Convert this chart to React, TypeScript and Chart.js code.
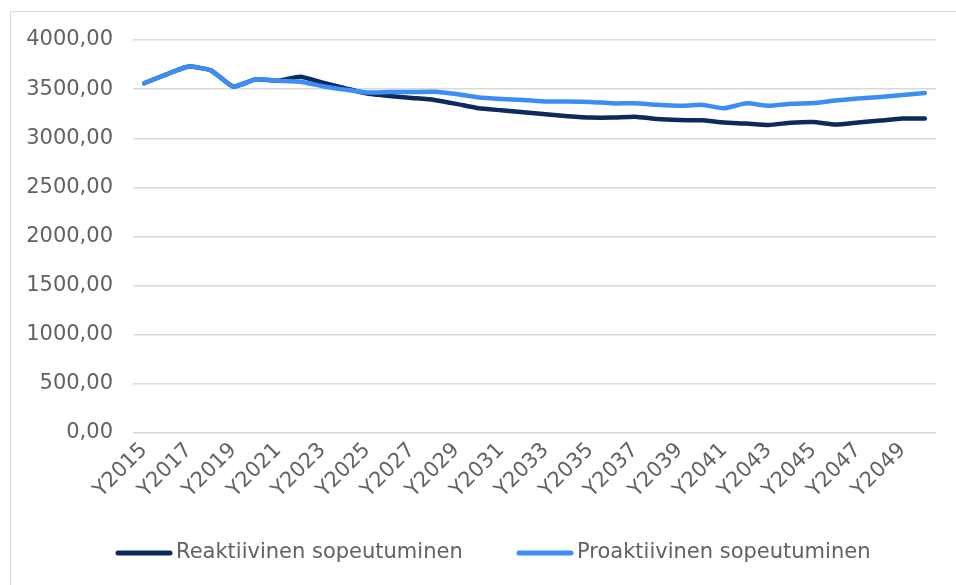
import React, { useEffect, useRef } from "react";
import { Chart, registerables } from "chart.js";

Chart.register(...registerables);

const years: string[] = [
  "Y2015", "Y2016", "Y2017", "Y2018", "Y2019", "Y2020", "Y2021", "Y2022", "Y2023", "Y2024",
  "Y2025", "Y2026", "Y2027", "Y2028", "Y2029", "Y2030", "Y2031", "Y2032", "Y2033", "Y2034",
  "Y2035", "Y2036", "Y2037", "Y2038", "Y2039", "Y2040", "Y2041", "Y2042", "Y2043", "Y2044",
  "Y2045", "Y2046", "Y2047", "Y2048", "Y2049", "Y2050",
];

const reaktiivinen: number[] = [
  3560, 3650, 3730, 3690, 3525, 3600, 3585, 3625, 3565, 3510,
  3455, 3430, 3410, 3390, 3350, 3305, 3285, 3265, 3245, 3225,
  3210, 3210, 3220, 3195, 3185, 3182, 3160, 3150, 3135, 3158,
  3165, 3140, 3160, 3180, 3200, 3200,
];

const proaktiivinen: number[] = [
  3560, 3650, 3730, 3690, 3525, 3600, 3585, 3575, 3530, 3495,
  3465, 3470, 3470, 3473, 3450, 3415, 3400, 3390, 3375, 3375,
  3370, 3355, 3355, 3340, 3330, 3340, 3305, 3355, 3330, 3350,
  3358, 3385, 3405, 3420, 3440, 3460,
];

const seriesNames: string[] = ["Reaktiivinen sopeutuminen", "Proaktiivinen sopeutuminen"];

const FONT = "'DejaVu Sans', sans-serif";
const FONT_SIZE = 21;
const TEXT = "#626262";
const DARK = "#0c2a5e";
const LIGHT = "#3b8ef5";

// Legend drawn on the chart canvas, below the category labels
const bottomLegend = {
  id: "bottomLegend",
  afterDraw(chart: any) {
    const ctx = chart.ctx;
    const items = [
      { text: seriesNames[0], color: DARK, x: 116 },
      { text: seriesNames[1], color: LIGHT, x: 517 },
    ];
    const lineLen = 56;
    const textGap = 4;
    const y = 553;
    ctx.save();
    ctx.font = `${FONT_SIZE}px ${FONT}`;
    items.forEach((it) => {
      ctx.strokeStyle = it.color;
      ctx.lineWidth = 5;
      ctx.lineCap = "round";
      ctx.beginPath();
      ctx.moveTo(it.x + 2, y);
      ctx.lineTo(it.x + lineLen - 2, y);
      ctx.stroke();
      ctx.fillStyle = TEXT;
      ctx.textBaseline = "middle";
      ctx.textAlign = "left";
      ctx.fillText(it.text, it.x + lineLen + textGap, y);
    });
    ctx.restore();
  },
};

export default function App() {
  const ref = useRef<HTMLCanvasElement | null>(null);

  useEffect(() => {
    if (!ref.current) return;
    const chart = new Chart(ref.current, {
      type: "line",
      data: {
        labels: years,
        datasets: [
          {
            label: seriesNames[1],
            data: proaktiivinen,
            borderColor: LIGHT,
            backgroundColor: LIGHT,
            borderWidth: 4.5,
            pointRadius: 0,
            tension: 0.15,
            borderCapStyle: "round",
            borderJoinStyle: "round",
          },
          {
            label: seriesNames[0],
            data: reaktiivinen,
            borderColor: DARK,
            backgroundColor: DARK,
            borderWidth: 4.5,
            pointRadius: 0,
            tension: 0.15,
            borderCapStyle: "round",
            borderJoinStyle: "round",
          },
        ],
      },
      plugins: [bottomLegend],
      options: {
        responsive: false,
        animation: false,
        layout: { padding: { left: 0, right: 20, top: 40, bottom: 60 } },
        plugins: {
          tooltip: { enabled: false },
          legend: { display: false },
        },
        scales: {
          x: {
            offset: true,
            grid: { display: false, drawTicks: false },
            border: { display: false },
            ticks: {
              autoSkip: false,
              minRotation: 45,
              maxRotation: 45,
              padding: 5,
              color: TEXT,
              font: { family: FONT, size: FONT_SIZE },
              callback: (_v: any, i: number) => (i % 2 === 0 ? years[i] : ""),
            },
            afterFit: (axis: any) => {
              axis.height = 92;
              axis.paddingLeft = 0;
              axis.paddingRight = 0;
            },
          },
          y: {
            min: 0,
            max: 4000,
            grid: { color: "#d9d9d9", drawTicks: false, lineWidth: 1.5 },
            border: { display: false },
            ticks: {
              stepSize: 500,
              padding: 20,
              color: TEXT,
              font: { family: FONT, size: FONT_SIZE },
              callback: (v: any) => Number(v).toFixed(2).replace(".", ","),
            },
            afterFit: (axis: any) => {
              axis.width = 133;
              axis.paddingTop = 0;
              axis.paddingBottom = 0;
            },
          },
        },
      },
    });
    return () => chart.destroy();
  }, []);

  return (
    <div style={{ position: "fixed", left: 0, top: 0, width: 956, height: 585, background: "#fff" }}>
      <div
        style={{
          position: "absolute",
          left: 10,
          top: 11,
          right: -10,
          bottom: -10,
          borderLeft: "1.5px solid #d9d9d9",
          borderTop: "1.5px solid #d9d9d9",
        }}
      />
      <canvas ref={ref} width={956} height={585} style={{ position: "absolute", left: 0, top: 0 }} />
    </div>
  );
}
